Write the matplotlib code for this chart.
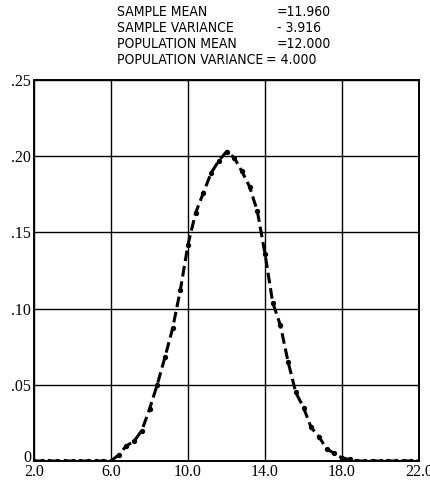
import matplotlib.pyplot as plt
import matplotlib.transforms as mtransforms
import numpy as np

# frequency polygon of the sampled values (bin width 0.4)
x_vals = np.round(np.arange(2.0, 22.01, 0.4), 1)
freq = [0, 0, 0, 0, 0, 0, 0, 0, 0, 0,
        0.0, 0.004, 0.010, 0.013, 0.020, 0.034, 0.050, 0.068, 0.087, 0.112,
        0.142, 0.163, 0.176, 0.189, 0.197, 0.203, 0.199, 0.190, 0.180, 0.164,
        0.136, 0.104, 0.089, 0.065, 0.045, 0.035, 0.022, 0.016, 0.008, 0.005,
        0.002, 0.001, 0, 0, 0, 0, 0, 0, 0, 0, 0]

x_ticks = [2.0, 6.0, 10.0, 14.0, 18.0, 22.0]
x_labels = ['2.0', '6.0', '10.0', '14.0', '18.0', '22.0']
y_ticks = [0, 0.05, 0.10, 0.15, 0.20, 0.25]
y_labels = ['0', '.05', '.10', '.15', '.20', '.25']

stat_names = ['SAMPLE MEAN', 'SAMPLE VARIANCE', 'POPULATION MEAN', 'POPULATION VARIANCE']
stat_vals = ['=11.960', '- 3.916', '=12.000', '= 4.000']

hdr_font = ['DejaVu Sans']
tick_font = ['Liberation Serif', 'DejaVu Serif']

fig = plt.figure(figsize=(4.31, 4.84), dpi=100)
ax = fig.add_axes([34 / 431, 23 / 484, 385 / 431, 381 / 484])

ax.plot(x_vals, freq, color='black', linestyle=(0, (3.5, 1.6)), linewidth=2.2)
ax.plot(x_vals, freq, 'o', color='black', markersize=2.8)

ax.set_xlim(2.0, 22.0)
ax.set_ylim(0, 0.25)
ax.set_xticks(x_ticks)
ax.set_xticklabels(x_labels, family=tick_font, fontsize=11.5)
ax.set_yticks(y_ticks)
ax.set_yticklabels(y_labels, family=tick_font, fontsize=11.5)
ax.tick_params(length=0, pad=2)
ax.grid(True, color='black', linewidth=1.0)
for s in ax.spines.values():
    s.set_linewidth(1.4)

# lift the "0" so it sits above the 2.0 label
zero_lbl = ax.get_yticklabels()[0]
zero_lbl.set_transform(zero_lbl.get_transform() +
                       mtransforms.ScaledTranslation(0, 5 / 100, fig.dpi_scale_trans))

# header block with the summary statistics
y_rows = [12, 28, 44, 60]
for name, val, yp in zip(stat_names, stat_vals, y_rows):
    fig.text(117 / 431, 1 - yp / 484, name, family=hdr_font, fontsize=10,
             fontstretch='condensed', va='center', ha='left')
    xv = 266 if name == 'POPULATION VARIANCE' else 277
    fig.text(xv / 431, 1 - yp / 484, val, family=hdr_font, fontsize=10,
             fontstretch='condensed', va='center', ha='left')

fig.savefig('out.png', dpi=100)
